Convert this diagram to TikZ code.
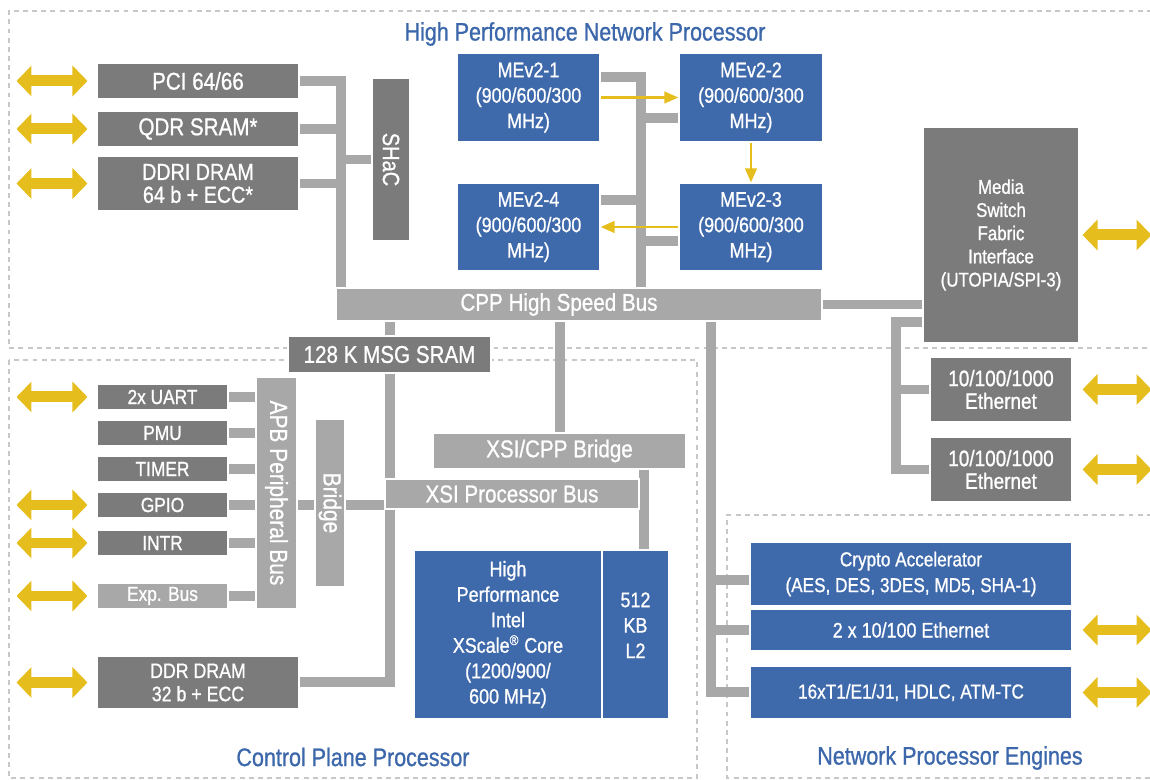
\documentclass[tikz,border=0pt]{standalone}
\usepackage{fontspec}
\setmainfont{Liberation Sans}[FakeStretch=0.85,FakeBold=0.9]
\usepackage{graphicx}
\usetikzlibrary{arrows.meta}
\pgfdeclarelayer{bg}
\pgfsetlayers{bg,main}
\definecolor{nblue}{RGB}{62,105,171}
\definecolor{tblue}{RGB}{60,103,170}
\definecolor{dgray}{RGB}{123,123,123}
\definecolor{lgray}{RGB}{168,168,168}
\definecolor{ygold}{RGB}{229,190,30}
\definecolor{dashgray}{RGB}{200,200,202}
\newcommand\fbig{\fontsize{13.8}{13.2}\selectfont}
\newcommand\fmed{\fontsize{12}{14.5}\selectfont}
\newcommand\fsm{\fontsize{11.6}{13}\selectfont}
\newcommand\ftitle{\fontsize{14.4}{16}\selectfont}
\newcommand\mkbox[7]{%
  \pgfmathsetmacro\bxw{(#4-#2)*0.02}%
  \pgfmathsetmacro\bxh{(#5-#3)*0.02}%
  \node[#6, minimum width=\bxw cm, minimum height=\bxh cm] (#1) at ({(#2+#4)/2},{(#3+#5)/2}) {#7};}
\begin{document}
\begin{tikzpicture}[x=0.02cm,y=-0.02cm,
  box/.style={draw=white, line width=0.6pt, inner sep=0pt, text=white, align=center, font=\fbig},
  dk/.style={box, fill=dgray},
  lt/.style={box, fill=lgray},
  bl/.style={box, fill=nblue, font=\fmed},
  per/.style={dk, font=\fsm},
  bus/.style={draw=lgray, line width=0.19cm},
  dbl/.style={draw=ygold, line width=0.22cm, {Triangle[length=0.3cm,width=0.6cm]}-{Triangle[length=0.3cm,width=0.6cm]}},
  yarr/.style={draw=ygold, line width=1.6pt, -{Triangle[length=8pt,width=6.5pt]}},
  region/.style={draw=dashgray, line width=1.6pt, dash pattern=on 2.8pt off 2.4pt},
  title/.style={text=tblue, font=\ftitle, inner sep=0pt}]
\useasboundingbox (0,0) rectangle (1150,780);

% ---------- boxes ----------
\mkbox{pci}{97}{63}{299}{99}{dk}{PCI 64/66}
\mkbox{qdr}{97}{111}{299}{147}{dk}{QDR SRAM*}
\mkbox{ddri}{97}{156}{299}{211}{dk,font=\fontsize{13.2}{13}\selectfont}{DDRI DRAM\\64 b + ECC*}
\mkbox{shac}{372}{78}{410}{241}{dk,font=\fontsize{13.4}{13}\selectfont}{\rotatebox{-90}{SHaC}}
\mkbox{me1}{457}{53}{600}{142}{bl}{MEv2-1\\(900/600/300\\MHz)}
\mkbox{me2}{679}{53}{823}{142}{bl}{MEv2-2\\(900/600/300\\MHz)}
\mkbox{me4}{457}{183}{600}{271}{bl}{MEv2-4\\(900/600/300\\MHz)}
\mkbox{me3}{679}{183}{823}{271}{bl}{MEv2-3\\(900/600/300\\MHz)}
\mkbox{cpp}{336}{288}{822}{321}{lt}{CPP High Speed Bus\hspace*{0.8cm}}
\mkbox{msg}{288}{336}{491}{373}{dk}{128 K MSG SRAM}
\mkbox{xcb}{433}{433}{686}{469}{lt}{XSI/CPP Bridge}
\mkbox{xsi}{385}{479}{639}{509}{lt}{XSI Processor Bus}
\mkbox{apb}{256}{377}{297}{609}{lt,font=\fontsize{14}{14}\selectfont}{\rotatebox{-90}{APB Peripheral Bus}}
\mkbox{bridge}{315}{419}{345}{587}{lt,font=\fontsize{14}{14}\selectfont}{\rotatebox{-90}{Bridge}}
\mkbox{uart}{97}{384}{228}{410}{per}{2x UART}
\mkbox{pmu}{97}{420}{228}{446}{per}{PMU}
\mkbox{timer}{97}{456}{228}{482}{per}{TIMER}
\mkbox{gpio}{97}{492}{228}{518}{per}{GPIO}
\mkbox{intr}{97}{530}{228}{556}{per}{INTR}
\mkbox{exp}{97}{583}{228}{609}{lt,font=\fsm}{Exp. Bus}
\mkbox{ddr}{97}{656}{299}{709}{dk,font=\fontsize{11.9}{13.2}\selectfont}{DDR DRAM\\32 b + ECC}
\mkbox{xscale}{414}{550}{602}{719}{bl}{High\\Performance\\Intel\\XScale\textsuperscript{®} Core\\(1200/900/\\600 MHz)}
\mkbox{l2}{602}{550}{669}{719}{bl}{512\\KB\\L2\\[-4pt]\mbox{}}
\mkbox{crypto}{750}{542}{1072}{606}{bl,font=\fontsize{11.5}{14.7}\selectfont}{Crypto Accelerator\\(AES, DES, 3DES, MD5, SHA-1)}
\mkbox{eth2x}{750}{609}{1072}{651}{bl}{2 x 10/100 Ethernet}
\mkbox{t1}{750}{666}{1072}{719}{bl,font=\fontsize{11.5}{14}\selectfont}{16xT1/E1/J1, HDLC, ATM-TC}
\mkbox{media}{923}{127}{1079}{343}{dk,font=\fontsize{11.3}{13.2}\selectfont}{Media\\Switch\\Fabric\\Interface\\(UTOPIA/SPI-3)}
\mkbox{eth1}{930}{357}{1072}{422}{dk,font=\fontsize{12.7}{12.9}\selectfont}{10/100/1000\\Ethernet}
\mkbox{eth2}{930}{437}{1072}{502}{dk,font=\fontsize{12.7}{12.9}\selectfont}{10/100/1000\\Ethernet}

% ---------- region titles ----------
\node[title] (labhp) at (585,34) {High Performance Network Processor};
\node[title] (labcp) at (353,757) {Control Plane Processor};
\node[title] (labnp) at (950,758) {Network Processor Engines};

% ---------- background: regions and buses ----------
\begin{pgfonlayer}{bg}
\draw[region] (1170,11) -- (9,11) -- (9,348) -- (1170,348);
\draw[region] (9,360) rectangle (697,778);
\draw[region] (1170,515) -- (727,515) -- (727,778) -- (1170,778);

% left bar to SHaC / CPP
\coordinate (lb) at (341,305);
\draw[bus] (pci.east) -| (lb);
\draw[bus] (qdr.east) -- (qdr.east -| lb);
\draw[bus] (ddri.east) -- (ddri.east -| lb);
\draw[bus] (shac.west -| lb) -- (shac.west);
% ME bar
\coordinate (mb) at (641,77);
\draw[bus] (me1.east |- mb) -- (mb) -- (mb |- cpp.center);
\coordinate (m2j) at (641,118);
\draw[bus] (m2j) -- (m2j -| me2.west);
\coordinate (m4j) at (641,200);
\draw[bus] (m4j) -- (m4j -| me4.east);
\coordinate (m3j) at (641,241);
\draw[bus] (m3j) -- (m3j -| me3.west);
% CPP to media
\draw[bus] (cpp.east) -- (cpp.east -| media.west);
% CPP down to MSG SRAM, XSI bus, DDR
\coordinate (cb) at (390,682);
\draw[bus] (cb |- cpp.center) -- (cb) -- (cb -| ddr.east);
% APB - Bridge - XSI
\coordinate (bj) at (390,505);
\draw[bus] (apb.east |- bj) -- (bridge.west |- bj);
\draw[bus] (bridge.east |- bj) -- (bj);
% CPP to XSI/CPP bridge, bridge to L2
\coordinate (s2) at (560,0);
\draw[bus] (s2 |- cpp.center) -- (s2 |- xcb.center);
\coordinate (s3) at (644,0);
\draw[bus] (s3 |- xcb.center) -- (s3 |- l2.center);
% CPP to network engines
\coordinate (s4) at (711,692);
\draw[bus] (s4 |- cpp.center) -- (s4) -- (s4 -| t1.west);
\coordinate (cj) at (711,580);
\draw[bus] (cj) -- (cj -| crypto.west);
\draw[bus] (s4 |- eth2x.west) -- (eth2x.west);
% media to ethernets
\coordinate (mj) at (896,322);
\draw[bus] (mj -| media.west) -- (mj) |- (eth2.west);
\draw[bus] (mj |- eth1.west) -- (eth1.west);
% APB arms
\foreach \p in {uart,pmu,timer,gpio,intr,exp}
  \draw[bus] (\p.east) -- (\p.east -| apb.west);
\end{pgfonlayer}

% ---------- ME ring arrows ----------
\draw[yarr] (me1.east) -- (me2.west);
\draw[yarr] (me2.south) -- (me3.north);
\draw[yarr] (me3.west) -- (me4.east);

% ---------- external double arrows ----------
\foreach \n in {pci,qdr,ddri,uart,gpio,intr,exp,ddr}
  \draw[dbl] ([xshift=-0.18cm]\n.west) -- ++(-1.42cm,0);
\draw[dbl] ([xshift=0.06cm]media.east) -- ++(1.38cm,0);
\foreach \n in {eth1,eth2,eth2x,t1}
  \draw[dbl] ([xshift=0.2cm]\n.east) -- ++(1.38cm,0);
\end{tikzpicture}
\end{document}
